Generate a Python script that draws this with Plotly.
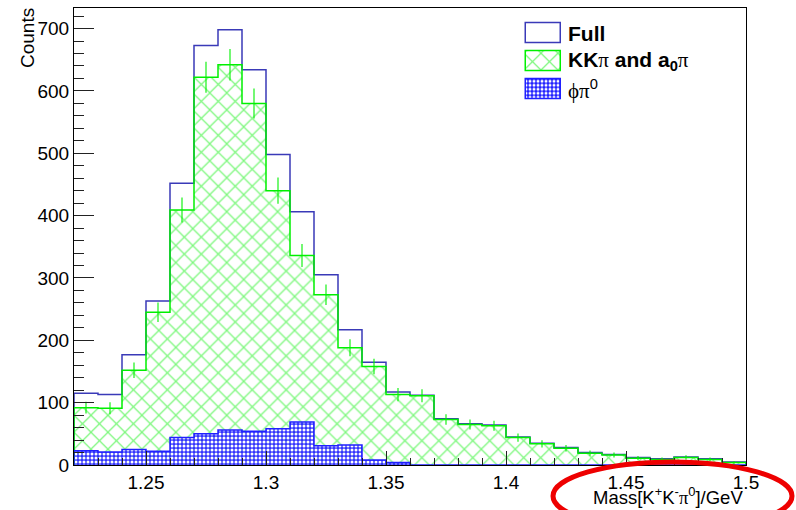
import numpy as np
import plotly.graph_objects as go

# ---------------- data ----------------
bin_low = 1.22
bin_width = 0.01
full_counts = [115, 113, 177, 263, 452, 673, 698, 634, 498, 406, 305, 217, 165, 117,
               112, 74, 66, 64, 45, 35, 28, 20, 17, 12, 10, 13, 10, 5]
kkpi_counts = [92, 91, 152, 245, 409, 622, 642, 580, 440, 336, 273, 188, 158, 113,
               111, 73, 65, 63, 44, 34, 27, 19, 16, 11, 9, 12, 9, 4]
phipi_counts = [23, 21, 25, 22, 44, 50, 56, 54, 58, 69, 31, 32, 8, 4,
                0, 0, 0, 0, 0, 0, 0, 0, 0, 0, 0, 0, 0, 0]
x_tick_vals = [1.25, 1.3, 1.35, 1.4, 1.45, 1.5]
x_tick_text = ["1.25", "1.3", "1.35", "1.4", "1.45", "1.5"]
legend_labels = ["Full", "KKpi", "phipi"]

SERIF = "font-family:Liberation Serif"
legend_texts = [
    "<b>Full</b>",
    "<b>KK</b><span style='%s'>π</span><b> and a<sub>0</sub></b><span style='%s'>π</span>" % (SERIF, SERIF),
    "<span style='%s'>ϕπ</span><sup>0</sup>" % SERIF,
]

n = len(full_counts)
edges = [round(bin_low + i * bin_width, 4) for i in range(n + 1)]
centers = [round(bin_low + (i + 0.5) * bin_width, 4) for i in range(n)]


def step(vals):
    xs = [edges[0]] + edges + [edges[-1]]
    ys = [0] + list(vals) + [vals[-1], 0]
    return xs, ys


GREEN = "#00f000"
FULLBLUE = "#3a3ab8"
PHIBLUE = "#2020ff"
FONT = "Liberation Sans"

fig = go.Figure()

# green hatched fill
fig.add_trace(go.Bar(
    x=centers, y=kkpi_counts, width=bin_width, showlegend=False,
    marker=dict(color="rgba(0,0,0,0)", line=dict(width=0),
                pattern=dict(shape="x", fgcolor=GREEN, bgcolor="rgba(0,0,0,0)",
                             size=12, solidity=0.2)),
    hoverinfo="skip"))
# phi pi0 dotted fill
fig.add_trace(go.Bar(
    x=centers, y=phipi_counts, width=bin_width, showlegend=False, opacity=0.9,
    marker=dict(color=PHIBLUE, line=dict(width=0),
                pattern=dict(shape=".", fgcolor="white", bgcolor=PHIBLUE,
                             size=4, solidity=0.45, fillmode="replace")),
    hoverinfo="skip"))

# outlines
for vals, col in [(full_counts, FULLBLUE), (kkpi_counts, GREEN), (phipi_counts, PHIBLUE)]:
    xs, ys = step(vals)
    fig.add_trace(go.Scatter(x=xs, y=ys, mode="lines", line=dict(color=col, width=1.5, shape="hv"),
                             showlegend=False, hoverinfo="skip"))

# green error bars
fig.add_trace(go.Scatter(
    x=centers, y=kkpi_counts, mode="markers",
    marker=dict(size=1, color="rgba(0,0,0,0)", line=dict(width=0)),
    error_y=dict(type="data", array=list(np.sqrt(kkpi_counts)), color=GREEN, thickness=1.1, width=0),
    showlegend=False, hoverinfo="skip"))

# legend swatches on an inset axis
swatch_styles = [
    dict(color="white", line=dict(color=FULLBLUE, width=1.5)),
    dict(color="white", line=dict(color=GREEN, width=1.5),
         pattern=dict(shape="x", fgcolor=GREEN, bgcolor="white", size=12, solidity=0.2)),
    dict(color=PHIBLUE, line=dict(color=PHIBLUE, width=1.5),
         pattern=dict(shape=".", fgcolor="white", bgcolor=PHIBLUE, size=4, solidity=0.45, fillmode="replace")),
]
for lab, st in zip(legend_labels, swatch_styles):
    fig.add_trace(go.Bar(x=[1], y=[lab], orientation="h", width=0.737, marker=st,
                         xaxis="x2", yaxis="y2", showlegend=False, hoverinfo="skip"))

annotations = []
for lab, txt in zip(legend_labels, legend_texts):
    annotations.append(dict(x=(566 - 74) / 672, xref="paper", y=lab, yref="y2", text=txt,
                            showarrow=False, xanchor="left", yanchor="middle",
                            font=dict(family=FONT, size=21, color="black")))

annotations.append(dict(
    x=(745 - 74) / 672, xref="paper", y=(465 - 496) / 457, yref="paper",
    text="Mass[K<sup>+</sup>K<sup>-</sup><span style='%s'>π</span><sup>0</sup>]/GeV" % SERIF,
    showarrow=False, xanchor="right", yanchor="middle",
    font=dict(family=FONT, size=18.5, color="black")))
annotations.append(dict(
    x=(27 - 74) / 672, xref="paper", y=(465 - 38) / 457, yref="paper", text="Counts",
    textangle=-90, showarrow=False, xanchor="center", yanchor="middle",
    font=dict(family=FONT, size=19, color="black")))

fig.update_layout(
    width=796, height=510,
    margin=dict(l=74, r=50, t=8, b=45, pad=0),
    paper_bgcolor="white", plot_bgcolor="white",
    barmode="overlay", bargap=0, showlegend=False,
    font=dict(family=FONT, size=19, color="black"),
    xaxis=dict(range=[edges[0], edges[-1]], tickvals=x_tick_vals, ticktext=x_tick_text,
               ticks="inside", ticklen=14, tickwidth=1, tickcolor="#222",
               minor=dict(ticks="inside", ticklen=7, tick0=edges[0], dtick=bin_width,
                          tickcolor="#222", tickwidth=1, showgrid=False),
               showline=True, linecolor="black", linewidth=1, mirror=True,
               showgrid=False, zeroline=False, tickfont=dict(size=19),
               layer="above traces"),
    yaxis=dict(range=[0, 733], dtick=100, tick0=0,
               ticks="inside", ticklen=20, tickwidth=1, tickcolor="#222",
               minor=dict(ticks="inside", ticklen=10, dtick=20, tickcolor="#222",
                          tickwidth=1, showgrid=False),
               showline=True, linecolor="black", linewidth=1, mirror=True,
               showgrid=False, zeroline=False, tickfont=dict(size=19),
               layer="above traces"),
    xaxis2=dict(domain=[(524 - 74) / 672, (563 - 74) / 672], range=[-0.05, 1.05],
                visible=False, anchor="y2", fixedrange=True),
    yaxis2=dict(domain=[(465 - 104.75) / 457, (465 - 19.25) / 457], type="category",
                categoryorder="array", categoryarray=legend_labels, autorange="reversed",
                visible=False, anchor="x2", fixedrange=True),
    annotations=annotations,
    shapes=[dict(type="circle", xref="paper", yref="paper",
                 x0=(553 - 74) / 672, x1=(792 - 74) / 672,
                 y0=(465 - 530) / 457, y1=(465 - 462) / 457,
                 line=dict(color="#ee0000", width=5), layer="above")],
)

fig.write_html("out.html")
